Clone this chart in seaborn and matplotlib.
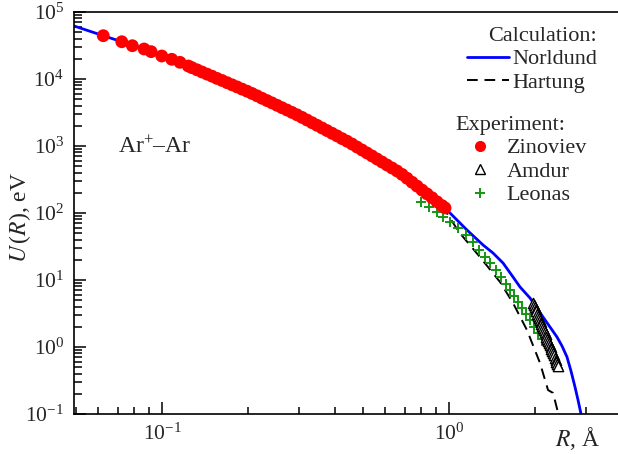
import matplotlib
matplotlib.use("Agg")
import matplotlib.pyplot as plt
import seaborn as sns
import pandas as pd
from matplotlib.lines import Line2D
from matplotlib.ticker import LogLocator, NullFormatter

# ---- data ----
zin_R = [0.0624, 0.0724, 0.0788, 0.0866, 0.0916, 0.0998, 0.1081, 0.1155, 0.1235, 0.1272,
         0.1324, 0.1378, 0.1435, 0.1494, 0.1554, 0.1619, 0.1685, 0.1754, 0.1826, 0.1900,
         0.1978, 0.2059, 0.2143, 0.2230, 0.2322, 0.2416, 0.2516, 0.2618, 0.2725, 0.2838,
         0.2954, 0.3075, 0.3200, 0.3332, 0.3468, 0.3610, 0.3757, 0.3912, 0.4072, 0.4238,
         0.4412, 0.4592, 0.4779, 0.4976, 0.5179, 0.5391, 0.5612, 0.5843, 0.6081, 0.6329,
         0.6589, 0.6860, 0.7142, 0.7433, 0.7736, 0.8052, 0.8381, 0.8725, 0.9082, 0.9454, 0.9685]
zin_U = [44300, 35990, 31400, 28050, 25600, 22040, 19680, 17740, 15630, 14750,
         13710, 12720, 11830, 11010, 10210, 9500, 8810, 8190, 7620, 7070,
         6580, 6080, 5610, 5160, 4760, 4400, 4050, 3730, 3445, 3170,
         2920, 2673, 2443, 2228, 2037, 1858, 1698, 1549, 1416, 1289,
         1180, 1071, 966, 871, 787, 710, 640, 577, 520, 470,
         424, 377, 330, 288, 252, 220, 193, 169, 147, 129, 119]

norl_R = [0.0494, 0.0624, 0.0866, 0.1155, 0.1619, 0.2230, 0.2954, 0.3912, 0.5179, 0.6589,
          0.8052, 0.9454, 1.008, 1.155, 1.314, 1.423, 1.543, 1.671, 1.768, 1.915,
          2.126, 2.248, 2.378, 2.476, 2.577, 2.661, 2.748, 2.815, 2.884, 2.91]
norl_U = [61800, 44300, 28050, 17740, 9500, 5160, 2920, 1549, 787, 424,
          220, 129, 100, 55.7, 33.3, 25.3, 17.9, 11.1, 7.86, 5.39,
          2.80, 1.99, 1.41, 1.035, 0.709, 0.438, 0.253, 0.162, 0.100, 0.08]

hart_R = [0.9454, 1.083, 1.282, 1.506, 1.671, 1.869, 2.075, 2.213, 2.304, 2.399, 2.42]
hart_U = [129, 52.0, 22.0, 9.33, 4.54, 1.79, 0.577, 0.228, 0.206, 0.104, 0.08]

leo_R = [0.799, 0.852, 0.908, 0.953, 1.008, 1.075, 1.146, 1.212, 1.272, 1.335,
         1.390, 1.458, 1.518, 1.580, 1.632, 1.685, 1.740, 1.796, 1.855, 1.915,
         1.978, 2.042, 2.109, 2.178, 2.231]
leo_U = [146, 123, 103.5, 87.2, 73.4, 59.7, 46.9, 36.9, 28.0, 22.0,
         17.9, 14.1, 11.1, 8.72, 7.09, 5.77, 4.69, 3.82, 3.11, 2.53,
         1.99, 1.62, 1.32, 1.07, 0.966]

amd_R = [1.962, 1.975, 1.988, 2.002, 2.015, 2.029, 2.042, 2.056, 2.070, 2.084, 2.098,
         2.112, 2.126, 2.140, 2.155, 2.169, 2.184, 2.198, 2.213, 2.228, 2.243,
         2.258, 2.273, 2.288, 2.304, 2.319, 2.335, 2.350, 2.366, 2.382, 2.398]
amd_U = [4.536, 4.221, 3.927, 3.654, 3.400, 3.162, 2.943, 2.737, 2.547, 2.370, 2.204,
         2.051, 1.909, 1.775, 1.652, 1.537, 1.430, 1.330, 1.237, 1.151, 1.071,
         0.9965, 0.927, 0.863, 0.803, 0.747, 0.695, 0.646, 0.601, 0.560, 0.520]

calc_labels = ["Norldund", "Hartung"]
exp_labels = ["Zinoviev", "Amdur", "Leonas"]

# ---- style ----
sns.set_theme(style="ticks")
plt.rcParams["font.family"] = ["Liberation Serif", "DejaVu Serif"]
plt.rcParams["mathtext.fontset"] = "stix"
plt.rcParams["mathtext.default"] = "regular"
plt.rcParams["axes.edgecolor"] = "black"
plt.rcParams["axes.linewidth"] = 1.2

fig = plt.figure(figsize=(6.18, 4.54), dpi=100)
ax = fig.add_axes([74 / 618, 40 / 454, 544 / 618, 402 / 454])

BLUE = "#0000ff"
GREEN = "#149614"
RED = "#ff0000"

sns.lineplot(x=norl_R, y=norl_U, sort=False, estimator=None, color=BLUE, lw=2.0, ax=ax, zorder=2)
sns.lineplot(x=hart_R, y=hart_U, sort=False, estimator=None, color="black", lw=1.4,
             linestyle=(0, (5.5, 3.5)), ax=ax, zorder=2)
sns.scatterplot(x=leo_R, y=leo_U, marker="+", s=45, color=GREEN, linewidth=1.4, ax=ax, zorder=3)
sns.scatterplot(x=amd_R, y=amd_U, marker="^", s=55, facecolor="white", edgecolor="black",
                linewidth=1.0, ax=ax, zorder=4)
sns.scatterplot(x=zin_R, y=zin_U, marker="o", s=85, color=RED, edgecolor="none", linewidth=0,
                ax=ax, zorder=5)

ax.set_xscale("log")
ax.set_yscale("log")
ax.set_xlim(0.04935, 3.88)
ax.set_ylim(0.1, 1e5)

ax.yaxis.set_major_locator(LogLocator(base=10, numticks=20))
ax.yaxis.set_minor_locator(LogLocator(base=10, subs=range(2, 10), numticks=100))
ax.yaxis.set_minor_formatter(NullFormatter())
ax.xaxis.set_minor_locator(LogLocator(base=10, subs=range(2, 10), numticks=100))
ax.xaxis.set_minor_formatter(NullFormatter())

ax.tick_params(which="both", direction="in", top=False, right=False, width=1.1, color="black")
ax.tick_params(which="major", length=8.6, labelsize=15.5, pad=7)
ax.tick_params(axis="y", which="minor", length=5.5)
ax.tick_params(axis="x", which="minor", length=5)
ax.spines["right"].set_visible(False)
for s in ["left", "bottom", "top"]:
    ax.spines[s].set_color("black")

ax.set_ylabel(r"$\mathit{U}\,(\mathit{R})$, eV", fontsize=17)
ax.yaxis.set_label_coords(-0.076, 0.49)
ax.set_xlabel(r"$\mathit{R}$, Å", fontsize=17)
ax.xaxis.set_label_coords(0.926, -0.028)

ax.text(0.081, 0.663, r"Ar$^{+}$–Ar", transform=ax.transAxes, fontsize=17, va="center", ha="left")

# ---- legends ----
h_calc = [Line2D([], [], color=BLUE, lw=2.0),
          Line2D([], [], color="black", lw=1.4, linestyle=(0, (5.5, 3.5)))]
leg1 = ax.legend(h_calc, calc_labels, title="Calculation:", loc="upper right",
                 bbox_to_anchor=(597 / 618, 1 - 27 / 454), bbox_transform=fig.transFigure,
                 frameon=False, fontsize=16, title_fontsize=16, handlelength=1.9,
                 handletextpad=0.12, labelspacing=0.13, borderpad=0, borderaxespad=0,
                 alignment="right")
ax.add_artist(leg1)

h_exp = [Line2D([], [], ls="none", marker="o", ms=8, color=RED, mec="none"),
         Line2D([], [], ls="none", marker="^", ms=7, mfc="white", mec="black", mew=1.0),
         Line2D([], [], ls="none", marker="+", ms=7, color=GREEN, mew=1.4)]
leg2 = ax.legend(h_exp, exp_labels, title="Experiment:", loc="upper right",
                 bbox_to_anchor=(587 / 618, 1 - 116 / 454), bbox_transform=fig.transFigure,
                 frameon=False, fontsize=16, title_fontsize=16, handlelength=2.2,
                 handletextpad=0.1, labelspacing=0.13, borderpad=0, borderaxespad=0,
                 alignment="left")

fig.savefig("out.png", dpi=100)
